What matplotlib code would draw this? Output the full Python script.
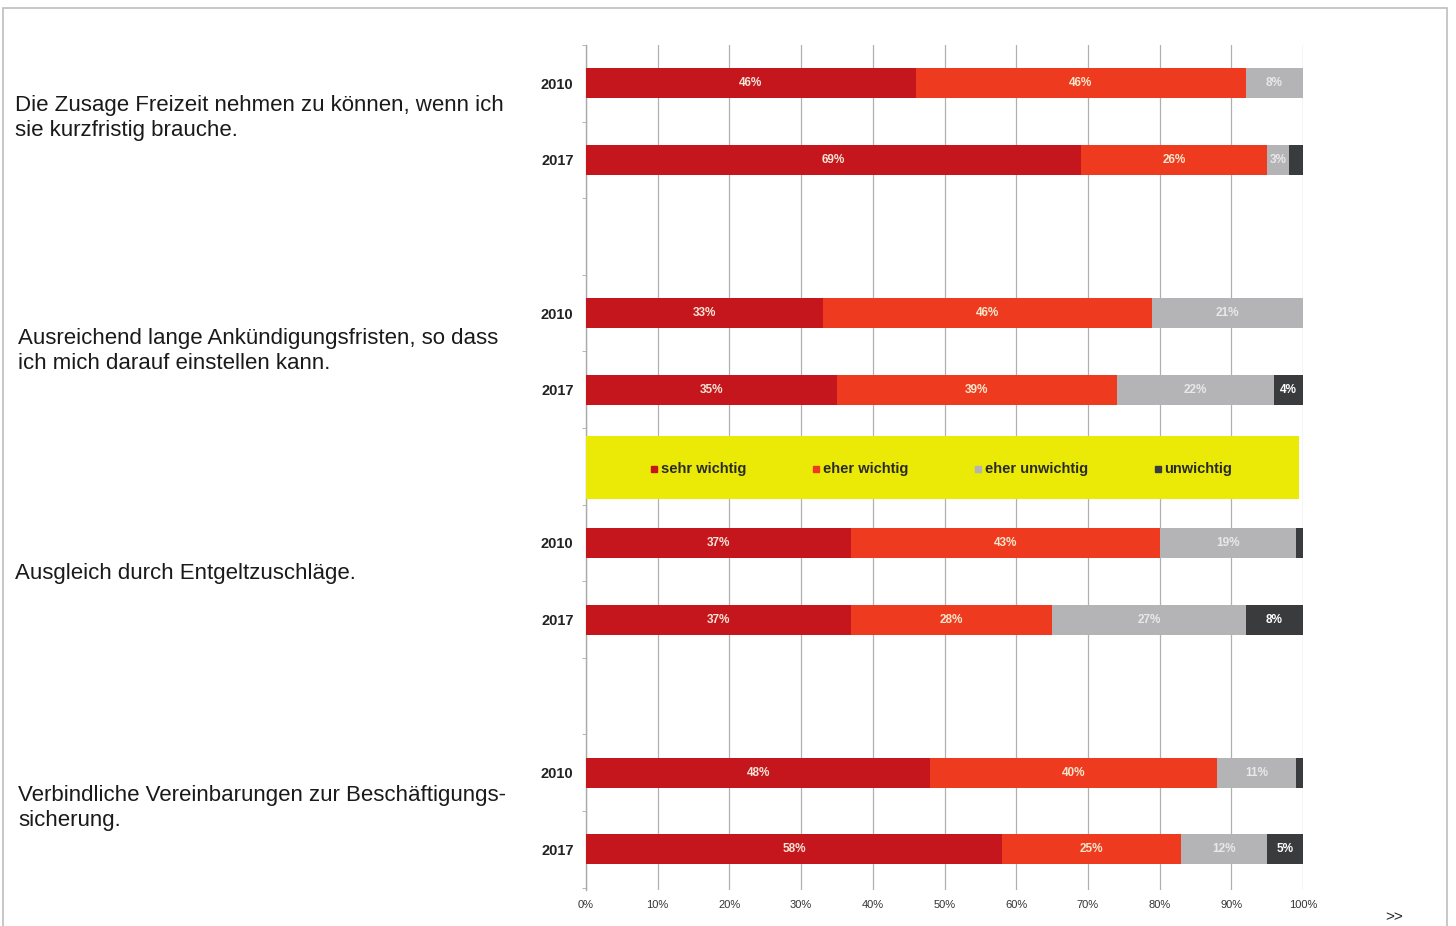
import matplotlib
matplotlib.use("Agg")
import matplotlib.pyplot as plt
from matplotlib.patches import Rectangle
import numpy as np

plt.rcParams['font.family'] = ['Liberation Sans', 'DejaVu Sans']

questions = [
    "Die Zusage Freizeit nehmen zu können, wenn ich\nsie kurzfristig brauche.",
    "Ausreichend lange Ankündigungsfristen, so dass\nich mich darauf einstellen kann.",
    "Ausgleich durch Entgeltzuschläge.",
    "Verbindliche Vereinbarungen zur Beschäftigungs-\nsicherung.",
]
years = ["2010", "2017"]
categories = ["sehr wichtig", "eher wichtig", "eher unwichtig", "unwichtig"]

# rows in order: Q1 2010, Q1 2017, Q2 2010, Q2 2017, ...
sehr_wichtig   = [46, 69, 33, 35, 37, 37, 48, 58]
eher_wichtig   = [46, 26, 46, 39, 43, 28, 40, 25]
eher_unwichtig = [8, 3, 21, 22, 19, 27, 11, 12]
unwichtig      = [0, 2, 0, 4, 1, 8, 1, 5]
series = [sehr_wichtig, eher_wichtig, eher_unwichtig, unwichtig]

colors = ["#C4161C", "#EE3B1F", "#B4B4B6", "#3A3B3D"]
label_colors = ["#F6E4D6", "#F8E6CC", "#E8E8EA", "#FFFFFF"]
xticks = [0, 10, 20, 30, 40, 50, 60, 70, 80, 90, 100]

W, H = 1456, 926
fig = plt.figure(figsize=(W / 100, H / 100), dpi=100)
fig.patch.set_facecolor("white")

# outer frame
fig.patches.append(Rectangle((3 / W, -0.01), (1447 - 3) / W, 1 - 8 / H + 0.01,
                             transform=fig.transFigure, fill=False,
                             edgecolor="#BDBDBD", linewidth=1.2))

ax = fig.add_axes([586 / W, 1 - 890 / H, (1303 - 586) / W, (890 - 45) / H])

ypos = []
for g in range(len(questions)):
    ypos += [3 * g, 3 * g + 1]
ypos = np.array(ypos, dtype=float)

left = np.zeros(len(ypos))
for s, col, lc in zip(series, colors, label_colors):
    vals = np.array(s, dtype=float)
    ax.barh(ypos, vals, left=left, height=0.39, color=col, edgecolor="none", zorder=3)
    for y, l, v in zip(ypos, left, vals):
        if v >= 3:
            ax.text(l + v / 2, y, f"{int(v)}%", ha="center", va="center",
                    fontsize=8.5, fontweight="bold", color=lc, zorder=4)
    left += vals

ax.set_xlim(0, 100)
ax.set_ylim(10.53, -0.48)
ax.set_xticks(xticks)
ax.set_xticklabels([f"{t}%" for t in xticks], fontsize=8, color="#333333")
ax.tick_params(axis="x", length=0, pad=7)
ax.set_yticks(ypos)
ax.set_yticklabels(years * len(questions), fontsize=10.5, fontweight="bold", color="#222222")
ax.tick_params(axis="y", length=0, pad=9)
ax.set_yticks(np.arange(-0.5, 10.6, 1.0), minor=True)
ax.tick_params(axis="y", which="minor", length=3, color="#AAAAAA", direction="out")
ax.xaxis.grid(True, color="#B0B0B0", linewidth=0.9, zorder=0)
for sp in ["top", "right", "bottom"]:
    ax.spines[sp].set_visible(False)
ax.spines["left"].set_color("#AAAAAA")
ax.spines["left"].set_linewidth(1.0)

# legend band
ax.add_patch(Rectangle((0, 4.6), 99.5, 0.82, facecolor="#EAEA06", edgecolor="none", zorder=5))
leg_x = [9.5, 32.1, 54.7, 79.8]
for x, cat, col in zip(leg_x, categories, colors):
    ax.plot([x], [5.03], marker="s", markersize=4.5, color=col, zorder=6, clip_on=False)
    ax.text(x + 0.9, 5.03, cat, ha="left", va="center", fontsize=10.5,
            fontweight="bold", color="#2A2A2A", zorder=6)

# question labels
q_pos = [(15, 118), (18, 351), (15, 573), (18, 808)]
for (qx, qy), q in zip(q_pos, questions):
    fig.text(qx / W, 1 - qy / H, q, ha="left", va="center", fontsize=16,
             color="#1A1A1A", linespacing=1.3)

fig.text(1385 / W, 1 - 917 / H, ">>", fontsize=11, color="#222222", va="center")

fig.savefig("out.png", dpi=100, facecolor="white")
